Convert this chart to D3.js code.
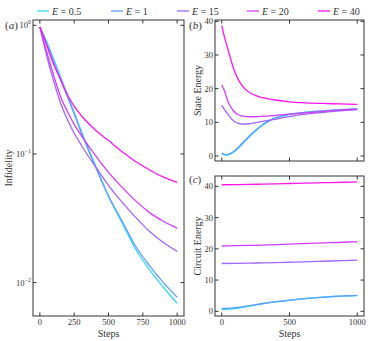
<!DOCTYPE html>
<html>
<head>
<meta charset="utf-8">
<script src="https://cdn.jsdelivr.net/npm/d3@7"></script>
<style>
body { margin: 0; background: #fff; }
svg text { font-family: "Liberation Serif", "DejaVu Serif", serif; fill: #333; }
</style>
</head>
<body>
<svg id="chart" width="374" height="341"></svg>
<script>
// legend / series
const energies = ['0.5', '1', '15', '20', '40'];
const colors = ['#33d6ff', '#5c9eff', '#a066ff', '#d23cff', '#ff14f0'];

// (a) infidelity vs steps
const stepsA = [0, 50, 100, 150, 200, 250, 300, 400, 500, 600, 700, 800, 900, 1000];
const infid05 = [0.97, 0.75, 0.55, 0.40, 0.29, 0.21, 0.152, 0.084, 0.047, 0.029, 0.018, 0.0125, 0.0092, 0.0069];
const infid1 = [0.97, 0.72, 0.52, 0.38, 0.28, 0.205, 0.148, 0.082, 0.047, 0.030, 0.019, 0.0135, 0.0100, 0.0077];
const infid15 = [0.97, 0.58, 0.37, 0.25, 0.185, 0.145, 0.118, 0.081, 0.057, 0.042, 0.032, 0.025, 0.0205, 0.0175];
const infid20 = [0.97, 0.62, 0.41, 0.28, 0.215, 0.17, 0.14, 0.099, 0.072, 0.055, 0.043, 0.035, 0.030, 0.0265];
const infid40 = [0.97, 0.70, 0.50, 0.38, 0.29, 0.235, 0.20, 0.155, 0.127, 0.104, 0.087, 0.075, 0.066, 0.060];

// (b) state energy
const stepsB = [0, 20, 40, 60, 90, 130, 170, 210, 260, 300, 380, 500, 620, 740, 870, 1000];
const state05 = [0.6, 0.3, 0.25, 0.5, 1.2, 2.6, 4.3, 5.9, 7.8, 9.1, 11.0, 12.3, 12.95, 13.35, 13.7, 14.0];
const state1 = [0.9, 0.5, 0.4, 0.7, 1.4, 2.9, 4.6, 6.2, 8.0, 9.3, 11.1, 12.4, 13.0, 13.4, 13.75, 14.0];
const state15 = [15.1, 13.8, 12.7, 11.6, 10.3, 9.6, 9.45, 9.6, 9.95, 10.3, 10.8, 11.7, 12.4, 12.9, 13.4, 13.8];
const state20 = [21.1, 19.4, 16.8, 15.0, 13.2, 12.1, 11.75, 11.65, 11.7, 11.8, 12.0, 12.4, 12.8, 13.2, 13.6, 13.9];
const state40 = [38.8, 35.3, 32.5, 29.6, 25.6, 22.1, 20.0, 18.7, 17.8, 17.3, 16.7, 16.1, 15.8, 15.6, 15.45, 15.3];

// (c) circuit energy
const stepsC = [0, 100, 200, 300, 400, 500, 600, 700, 800, 900, 1000];
const circ05 = [0.6, 0.9, 1.6, 2.4, 3.0, 3.5, 3.95, 4.35, 4.65, 4.9, 5.05];
const circ1 = [0.9, 1.2, 1.8, 2.5, 3.1, 3.6, 4.0, 4.4, 4.7, 4.95, 5.1];
const circ15 = [15.3, 15.35, 15.4, 15.5, 15.6, 15.7, 15.8, 15.95, 16.1, 16.25, 16.4];
const circ20 = [20.9, 21.0, 21.1, 21.2, 21.35, 21.5, 21.65, 21.8, 21.95, 22.1, 22.3];
const circ40 = [40.5, 40.55, 40.6, 40.7, 40.8, 40.9, 41.0, 41.1, 41.2, 41.3, 41.4];

const ticksA = [0, 250, 500, 750, 1000];
const ticksBC = [0, 500, 1000];
const ticksE = [0, 10, 20, 30, 40];
const ticksLog = [1, 0.1, 0.01];
const logLabels = ['0', '\u22121', '\u22122'];

const svg = d3.select('#chart');
const frameColor = '#333';

function drawPanel(box, x, y, xticks, yticks, showXLabels, yfmt) {
  const g = svg.append('g');
  const tl = 3.5;
  // ticks inward on all four sides
  xticks.forEach(t => {
    const px = x(t);
    g.append('line').attr('x1', px).attr('x2', px).attr('y1', box.bottom).attr('y2', box.bottom - tl).attr('stroke', frameColor);
    g.append('line').attr('x1', px).attr('x2', px).attr('y1', box.top).attr('y2', box.top + tl).attr('stroke', frameColor);
    if (showXLabels) {
      g.append('text').attr('x', px).attr('y', box.bottom + 9).attr('text-anchor', 'middle')
        .style('font-size', '8.5px').text(t);
    }
  });
  yticks.forEach((t, i) => {
    const py = y(t);
    g.append('line').attr('x1', box.left).attr('x2', box.left + tl).attr('y1', py).attr('y2', py).attr('stroke', frameColor);
    g.append('line').attr('x1', box.right).attr('x2', box.right - tl).attr('y1', py).attr('y2', py).attr('stroke', frameColor);
    yfmt(g, t, i, box.left - 2, py);
  });
  g.append('rect').attr('x', box.left).attr('y', box.top)
    .attr('width', box.right - box.left).attr('height', box.bottom - box.top)
    .attr('fill', 'none').attr('stroke', frameColor).attr('stroke-width', 1);
  return g;
}

function plainY(g, t, i, px, py) {
  g.append('text').attr('x', px).attr('y', py + 3).attr('text-anchor', 'end')
    .style('font-size', '8.5px').text(t);
}

function logY(g, t, i, px, py) {
  const txt = g.append('text').attr('x', px).attr('y', py + 3).attr('text-anchor', 'end').style('font-size', '8.5px');
  txt.append('tspan').text('10');
  txt.append('tspan').attr('dy', -4).style('font-size', '6px').text(logLabels[i]);
}

function drawLines(g, steps, seriesList, x, y) {
  const line = d3.line().x(d => x(d[0])).y(d => y(d[1])).curve(d3.curveMonotoneX);
  seriesList.forEach((vals, i) => {
    g.append('path').datum(steps.map((s, j) => [s, vals[j]]))
      .attr('d', line).attr('fill', 'none').attr('stroke', colors[i]).attr('stroke-width', 1.3);
  });
}

// panel (a)
const boxA = {left: 33, right: 184, top: 20, bottom: 316};
const xA = d3.scaleLinear().domain([-50, 1050]).range([boxA.left, boxA.right]);
const yA = d3.scaleLog().domain([0.0055, 1.1]).range([boxA.bottom, boxA.top]);
const gA = svg.append('g');
drawLines(gA, stepsA, [infid05, infid1, infid15, infid20, infid40], xA, yA);
drawPanel(boxA, xA, yA, ticksA, ticksLog, true, logY);

// panel (b)
const boxB = {left: 215, right: 364, top: 20, bottom: 161};
const xB = d3.scaleLinear().domain([-50, 1050]).range([boxB.left, boxB.right]);
const yB = d3.scaleLinear().domain([-1.5, 40.4]).range([boxB.bottom, boxB.top]);
const gB = svg.append('g');
drawLines(gB, stepsB, [state05, state1, state15, state20, state40], xB, yB);
drawPanel(boxB, xB, yB, ticksBC, ticksE, false, plainY);

// panel (c)
const boxC = {left: 215, right: 364, top: 176, bottom: 316};
const xC = d3.scaleLinear().domain([-50, 1050]).range([boxC.left, boxC.right]);
const yC = d3.scaleLinear().domain([-1.5, 43.3]).range([boxC.bottom, boxC.top]);
const gC = svg.append('g');
drawLines(gC, stepsC, [circ05, circ1, circ15, circ20, circ40], xC, yC);
drawPanel(boxC, xC, yC, ticksBC, ticksE, true, plainY);

// axis labels
svg.append('text').attr('x', (boxA.left + boxA.right) / 2).attr('y', 337).attr('text-anchor', 'middle').style('font-size', '10px').text('Steps');
svg.append('text').attr('x', (boxC.left + boxC.right) / 2).attr('y', 337).attr('text-anchor', 'middle').style('font-size', '10px').text('Steps');
svg.append('text').attr('transform', `translate(12,${(boxA.top + boxA.bottom) / 2}) rotate(-90)`).attr('text-anchor', 'middle').style('font-size', '10px').text('Infidelity');
svg.append('text').attr('transform', `translate(201,${(boxB.top + boxB.bottom) / 2}) rotate(-90)`).attr('text-anchor', 'middle').style('font-size', '10px').text('State Energy');
svg.append('text').attr('transform', `translate(201,${(boxC.top + boxC.bottom) / 2}) rotate(-90)`).attr('text-anchor', 'middle').style('font-size', '10px').text('Circuit Energy');

// panel tags
[['a', 5, 29], ['b', 189, 29], ['c', 189, 183]].forEach(p => {
  const t = svg.append('text').attr('x', p[1]).attr('y', p[2]).style('font-size', '11px');
  t.append('tspan').text('(');
  t.append('tspan').style('font-style', 'italic').text(p[0]);
  t.append('tspan').text(')');
});

// legend
const legendX = [37, 111, 177, 247, 318];
energies.forEach((e, i) => {
  const lg = svg.append('g').attr('transform', `translate(${legendX[i]},11)`);
  lg.append('line').attr('x1', 0).attr('x2', 12).attr('y1', 0).attr('y2', 0).attr('stroke', colors[i]).attr('stroke-width', 1.3);
  const t = lg.append('text').attr('x', 15).attr('y', 3.5).style('font-size', '10px');
  t.append('tspan').style('font-style', 'italic').text('E');
  t.append('tspan').text(' = ' + e);
});
</script>
</body>
</html>
